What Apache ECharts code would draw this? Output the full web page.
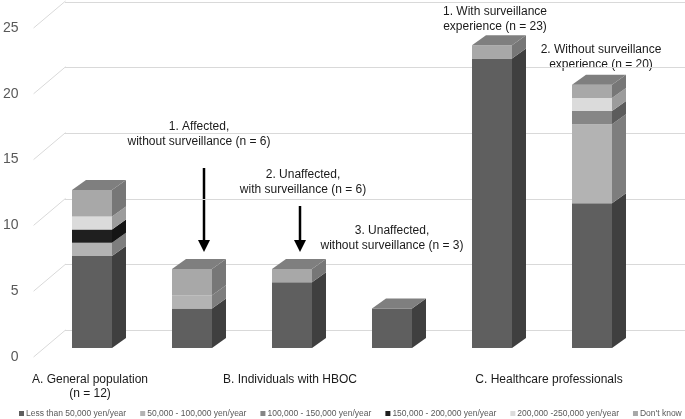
<!DOCTYPE html>
<html>
<head>
<meta charset="utf-8">
<script src="https://cdn.jsdelivr.net/npm/echarts@6/dist/echarts.min.js"></script>
<style>
html, body { margin: 0; padding: 0; background: #fff; }
#main { width: 685px; height: 419px; }
</style>
</head>
<body>
<div id="main"></div>
<script>
// x categories (one per bar) and their group labels under the axis
const bars = ['A', 'B1', 'B2', 'B3', 'C1', 'C2'];
const groupLabels = ['A. General population\n(n = 12)', 'B. Individuals with HBOC', 'C. Healthcare professionals'];
const groupBars = [[0], [2], [4, 5]];   // bars each group label is centred under

// income groups (legend order, stacked bottom -> top)
const incomeNames = [
    'Less than 50,000 yen/year',
    '50,000 - 100,000 yen/year',
    '100,000 - 150,000 yen/year',
    '150,000 - 200,000 yen/year',
    '200,000 -250,000 yen/year',
    "Don't know"
];
const lessThan50k  = [7, 3, 5, 3, 22, 11];
const from50to100k = [1, 1, 0, 0, 0, 6];
const from100to150k = [0, 0, 0, 0, 0, 1];
const from150to200k = [1, 0, 0, 0, 0, 0];
const from200to250k = [1, 0, 0, 0, 0, 1];
const dontKnow     = [2, 2, 1, 0, 1, 1];

const yTicks = [0, 5, 10, 15, 20, 25];

// notes above the bars
const noteTexts = [
    '1. Affected,\nwithout surveillance (n = 6)',
    '2. Unaffected,\nwith surveillance (n = 6)',
    '3. Unaffected,\nwithout surveillance (n = 3)',
    '1. With surveillance\nexperience (n = 23)',
    '2. Without surveillance\nexperience (n = 20)'
];

const allValues = [lessThan50k, from50to100k, from100to150k, from150to200k, from200to250k, dontKnow];
const frontColors = ['#5f5f5f', '#b3b3b3', '#868686', '#1f1f1f', '#dbdbdb', '#a8a8a8'];
const sideColors  = ['#3f3f3f', '#7e7e7e', '#5c5c5c', '#141414', '#9c9c9c', '#777777'];
const topColor = '#7f7f7f';
const DX = 14, DY = 10;   // depth of the boxes
const WX = 32, WY = 27;   // depth from label plane to back wall
const FONT = '"Liberation Sans", Arial, sans-serif';

// stacking
const bases = [];
let running = bars.map(() => 0);
for (let k = 0; k < allValues.length; k++) {
    bases.push(running.slice());
    running = running.map((r, i) => r + allValues[k][i]);
}
const topIdx = bars.map((b, i) => {
    let t = -1;
    for (let k = 0; k < allValues.length; k++) if (allValues[k][i] > 0) t = k;
    return t;
});

function boxSeries(k) {
    return {
        type: 'custom',
        name: incomeNames[k],
        xAxisIndex: 0,
        yAxisIndex: 0,
        itemStyle: { color: frontColors[k] },
        data: bars.map((b, i) => [i, bases[k][i], bases[k][i] + allValues[k][i], topIdx[i] === k ? 1 : 0]),
        renderItem: function (params, api) {
            const i = api.value(0), lo = api.value(1), hi = api.value(2), isTop = api.value(3);
            if (hi <= lo) return null;
            const p0 = api.coord([i, lo]);
            const p1 = api.coord([i, hi]);
            const w = api.size([1, 0])[0] * 0.4;
            const x0 = p0[0] - w / 2, x1 = p0[0] + w / 2;
            const kids = [
                { type: 'rect', shape: { x: x0, y: p1[1], width: w, height: p0[1] - p1[1] },
                  style: { fill: frontColors[k] } },
                { type: 'polygon', shape: { points: [[x1, p0[1]], [x1 + DX, p0[1] - DY], [x1 + DX, p1[1] - DY], [x1, p1[1]]] },
                  style: { fill: sideColors[k] } }
            ];
            if (isTop) {
                kids.push({ type: 'polygon', shape: { points: [[x0, p1[1]], [x1, p1[1]], [x1 + DX, p1[1] - DY], [x0 + DX, p1[1] - DY]] },
                    style: { fill: topColor } });
            }
            return { type: 'group', children: kids };
        }
    };
}

const series = allValues.map((v, k) => boxSeries(k));

// slanted floor-to-wall lines on the label plane
series.push({
    type: 'custom',
    xAxisIndex: 2,
    yAxisIndex: 2,
    silent: true,
    z: 1,
    data: yTicks.map(v => [0, v]),
    renderItem: function (params, api) {
        const p = api.coord([0, api.value(1)]);
        return { type: 'line', shape: { x1: p[0], y1: p[1], x2: p[0] + WX, y2: p[1] - WY },
                 style: { stroke: '#d9d9d9', lineWidth: 1 } };
    }
});

// note texts and arrows
const notePos = [[199, 134], [303, 182], [392, 238], [495, 19], [601, 57]];
const graphics = noteTexts.map((t, n) => ({
    type: 'text', x: notePos[n][0], y: notePos[n][1],
    style: { text: t, textAlign: 'center', textVerticalAlign: 'middle', fontSize: 12,
             lineHeight: 15, fontFamily: FONT, fill: '#1a1a1a' }
}));
const arrows = [[204, 168, 252], [300, 206, 252]];
arrows.forEach(a => {
    graphics.push({ type: 'line', shape: { x1: a[0], y1: a[1], x2: a[0], y2: a[2] - 10 },
                    style: { stroke: '#000', lineWidth: 2.5 } });
    graphics.push({ type: 'polygon', shape: { points: [[a[0] - 6, a[2] - 12], [a[0] + 6, a[2] - 12], [a[0], a[2]]] },
                    style: { fill: '#000' } });
});

const myChart = echarts.init(document.getElementById('main'));
const option = {
    animation: false,
    color: frontColors,
    textStyle: { fontFamily: FONT },
    grid: [
        { left: 42, width: 600, top: 19, height: 329 },   // bar front plane
        { left: 65, right: 0, top: 2, height: 328 },       // back wall
        { left: 33, width: 32, top: 28, height: 329 }      // label plane
    ],
    xAxis: [
        {
            gridIndex: 0, type: 'category', data: bars,
            axisLine: { show: false }, axisTick: { show: false }, axisLabel: { show: false }
        },
        { gridIndex: 1, type: 'value', min: 0, max: 1, show: false },
        { gridIndex: 2, type: 'value', min: 0, max: 1, show: false }
    ],
    yAxis: [
        { gridIndex: 0, type: 'value', min: 0, max: 25, interval: 5, show: false },
        {
            gridIndex: 1, type: 'value', min: 0, max: 25, interval: 5,
            axisLine: { show: false }, axisTick: { show: false }, axisLabel: { show: false },
            splitLine: { lineStyle: { color: '#d9d9d9', width: 1 } }
        },
        {
            gridIndex: 2, type: 'value', min: 0, max: 25, interval: 5,
            axisLine: { show: false }, axisTick: { show: false }, splitLine: { show: false },
            axisLabel: { fontSize: 14, color: '#595959', margin: 15, fontFamily: FONT }
        }
    ],
    legend: {
        data: incomeNames,
        left: 14,
        top: 404,
        width: 800,
        icon: 'rect',
        itemWidth: 5,
        itemHeight: 5,
        itemGap: 14,
        textStyle: { fontSize: 8.5, color: '#595959', fontFamily: FONT, padding: [0, 0, 0, -3] }
    },
    graphic: graphics,
    series: series
};
myChart.setOption(option);

// group labels under the bars, placed from the category axis
const labelGraphics = groupLabels.map((t, g) => {
    const xs = groupBars[g].map(i => myChart.convertToPixel({ gridIndex: 0 }, [i, 0])[0]);
    const cx = (Math.min.apply(null, xs) + Math.max.apply(null, xs)) / 2 + (groupBars[g].length > 1 ? 7 : -2);
    const y0 = myChart.convertToPixel({ gridIndex: 0 }, [0, 0])[1];
    return {
        type: 'text', x: cx, y: y0 + 25,
        style: { text: t, textAlign: 'center', textVerticalAlign: 'top', fontSize: 12,
                 lineHeight: 14, fontFamily: FONT, fill: '#1a1a1a' }
    };
});
myChart.setOption({ graphic: graphics.concat(labelGraphics) });
</script>
</body>
</html>
